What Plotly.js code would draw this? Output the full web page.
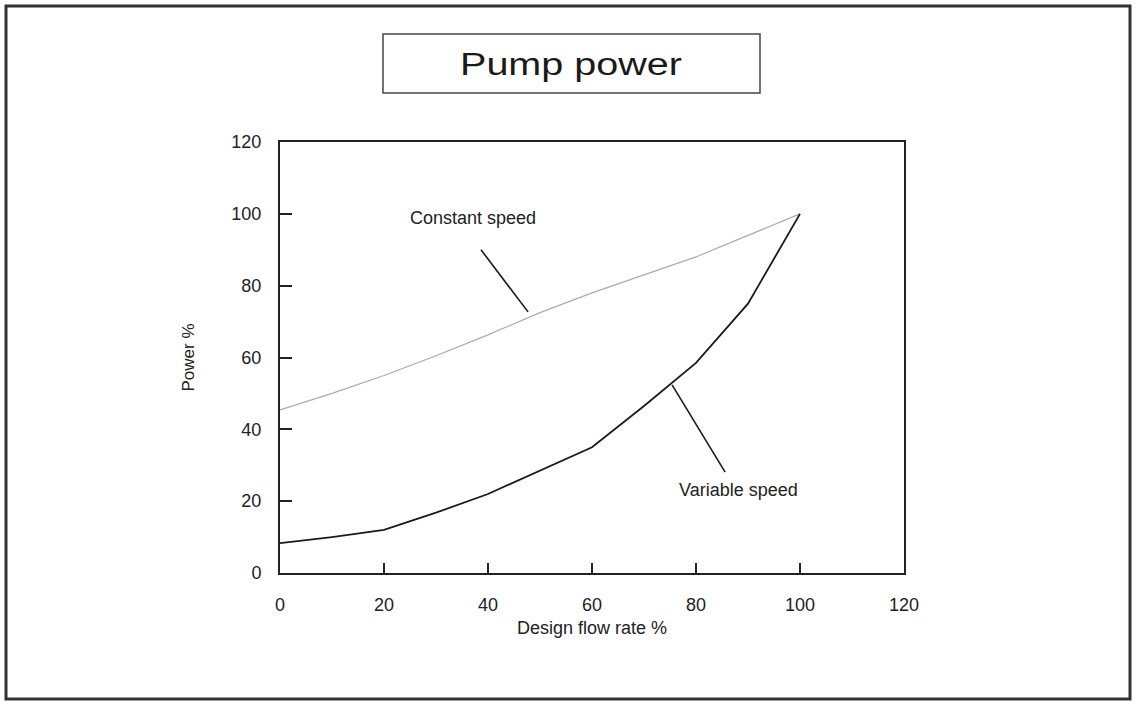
<!DOCTYPE html>
<html>
<head>
<meta charset="utf-8">
<script src="https://cdn.plot.ly/plotly-3.0.1.min.js"></script>
<style>
  html, body { margin: 0; padding: 0; background: #fff; }
  #chart { width: 1136px; height: 705px; }
</style>
</head>
<body>
<div id="chart"></div>
<script>
// ---- data ----
const flowRate = [0, 10, 20, 30, 40, 50, 60, 70, 80, 90, 100];
const constantSpeed = [45.4, 50, 55, 60.5, 66.3, 72.5, 78, 83, 88, 94, 100];
const variableSpeed = [8.3, 10, 12, 16.8, 22, 28.5, 35, 46.5, 58.5, 75, 100];
const tickVals = [0, 20, 40, 60, 80, 100, 120];
const chartTitle = "Pump power";
const xTitle = "Design flow rate %";
const yTitle = "Power %";
const seriesNames = ["Constant speed", "Variable speed"];

// ---- layout helpers (pixel -> paper) ----
const L = 280, R = 904, T = 142, B = 573;
const px = x => (x - L) / (R - L);
const py = y => (B - y) / (B - T);
const FONT = "Liberation Sans, Arial, sans-serif";

const traces = [
  { x: flowRate, y: constantSpeed, name: seriesNames[0], mode: "lines",
    line: { color: "#ababab", width: 1.2 }, hoverinfo: "x+y" },
  { x: flowRate, y: variableSpeed, name: seriesNames[1], mode: "lines",
    line: { color: "#1a1a1a", width: 1.8 }, hoverinfo: "x+y" }
];

const axisCommon = {
  showgrid: false, zeroline: false,
  showline: true, linecolor: "#222", linewidth: 2, mirror: true,
  ticks: "inside", tickcolor: "#222", tickwidth: 2,
  tickfont: { family: FONT, size: 18, color: "#222" },
  tickvals: tickVals, fixedrange: true
};

const layout = {
  width: 1136, height: 705,
  margin: { l: L, r: 1136 - R, t: T, b: 705 - B, pad: 0 },
  paper_bgcolor: "#fff", plot_bgcolor: "#fff",
  showlegend: false,
  title: { text: chartTitle, font: { family: FONT, size: 31, color: "#1a1a1a" },
           x: px(571), xanchor: "center", xref: "paper",
           y: 1 - 64 / 705, yanchor: "middle", yref: "container" },
  xaxis: Object.assign({}, axisCommon, {
    range: [0, 120], ticklen: 10, ticklabelstandoff: 14,
    title: { text: xTitle, font: { family: FONT, size: 18, color: "#222" }, standoff: 8 }
  }),
  yaxis: Object.assign({}, axisCommon, {
    range: [0, 120], ticklen: 12, ticklabelstandoff: 13,
    title: { text: yTitle, font: { family: FONT, size: 17, color: "#222" }, standoff: 32 }
  }),
  shapes: [
    // outer frame
    { type: "rect", xref: "paper", yref: "paper",
      x0: px(6), x1: px(1130), y0: py(699), y1: py(6),
      line: { color: "#333", width: 3 } },
    // title box
    { type: "rect", xref: "paper", yref: "paper",
      x0: px(383), x1: px(760), y0: py(93), y1: py(34),
      line: { color: "#444", width: 1.5 } },
    // leader lines
    { type: "line", xref: "x", yref: "y", x0: 38.65, y0: 90.0, x1: 47.7, y1: 72.7,
      line: { color: "#1a1a1a", width: 1.6 } },
    { type: "line", xref: "x", yref: "y", x0: 75.4, y0: 52.4, x1: 85.6, y1: 28.1,
      line: { color: "#1a1a1a", width: 1.6 } }
  ],
  annotations: [
    { text: seriesNames[0], xref: "x", yref: "y", x: 37.1, y: 98.9, showarrow: false,
      font: { family: FONT, size: 18, color: "#222" }, xanchor: "center", yanchor: "middle" },
    { text: seriesNames[1], xref: "x", yref: "y", x: 88.1, y: 23.1, showarrow: false,
      font: { family: FONT, size: 18, color: "#222" }, xanchor: "center", yanchor: "middle" }
  ]
};

Plotly.newPlot("chart", traces, layout, { displayModeBar: false, staticPlot: true }).then(() => {
  // stretch the title horizontally like the reference
  const t = document.querySelector(".gtitle");
  if (t) {
    t.setAttribute("textLength", "222");
    t.setAttribute("lengthAdjust", "spacingAndGlyphs");
  }
});
</script>
</body>
</html>
